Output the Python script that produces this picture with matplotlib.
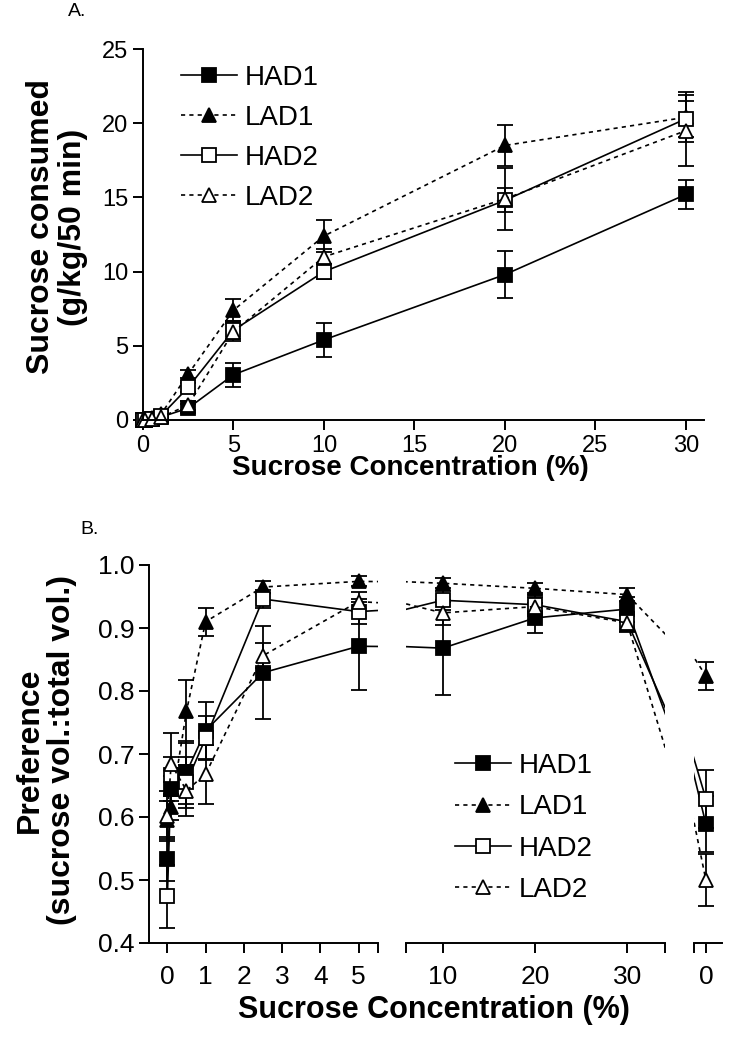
import matplotlib
matplotlib.use("Agg")
import matplotlib.pyplot as plt
from matplotlib.lines import Line2D

plt.rcParams['font.family'] = ['Liberation Sans', 'DejaVu Sans']

# panel A: sucrose consumed (g/kg/50 min)
conc_a = [0, 0.1, 0.5, 1, 2.5, 5, 10, 20, 30]
had1_a = [0, 0.02, 0.1, 0.2, 0.8, 3.05, 5.4, 9.8, 15.2]
lad1_a = [0, 0.02, 0.15, 0.4, 3.1, 7.4, 12.4, 18.5, 20.4]
had2_a = [0, 0.02, 0.1, 0.3, 2.2, 6.05, 10.0, 14.8, 20.3]
lad2_a = [0, 0.02, 0.1, 0.2, 1.0, 5.95, 11.0, 14.9, 19.5]
had1_a_err = [0, 0.02, 0.05, 0.1, 0.3, 0.8, 1.15, 1.6, 1.0]
lad1_a_err = [0, 0.02, 0.05, 0.1, 0.3, 0.75, 1.1, 1.4, 1.7]
had2_a_err = [0, 0.02, 0.05, 0.1, 0.3, 0.6, 0.5, 0.8, 1.2]
lad2_a_err = [0, 0.02, 0.05, 0.1, 0.3, 0.6, 0.5, 2.1, 2.4]

# panel B: preference; last point is the post-test water (plotted at 38.5, labelled "0")
conc_b = [0, 0.1, 0.5, 1, 2.5, 5, 10, 20, 30, 38.5]
had1_b = [0.534, 0.645, 0.671, 0.737, 0.829, 0.871, 0.868, 0.916, 0.93, 0.589]
lad1_b = [0.595, 0.616, 0.768, 0.91, 0.965, 0.974, 0.971, 0.963, 0.953, 0.824]
had2_b = [0.474, 0.666, 0.655, 0.725, 0.946, 0.926, 0.944, 0.937, 0.91, 0.629]
lad2_b = [0.602, 0.684, 0.642, 0.668, 0.856, 0.942, 0.924, 0.934, 0.908, 0.5]
had1_b_err = [0.035, 0.02, 0.05, 0.045, 0.074, 0.07, 0.074, 0.024, 0.02, 0.045]
lad1_b_err = [0.03, 0.02, 0.05, 0.022, 0.01, 0.008, 0.008, 0.008, 0.01, 0.022]
had2_b_err = [0.05, 0.03, 0.04, 0.035, 0.015, 0.02, 0.015, 0.015, 0.015, 0.046]
lad2_b_err = [0.04, 0.05, 0.04, 0.047, 0.02, 0.015, 0.02, 0.015, 0.015, 0.042]

labels = ['HAD1', 'LAD1', 'HAD2', 'LAD2']
styles = [dict(marker='s', ls='-', mfc='black'),
          dict(marker='^', ls=(0, (2.5, 2.5)), mfc='black'),
          dict(marker='s', ls='-', mfc='white'),
          dict(marker='^', ls=(0, (2.5, 2.5)), mfc='white')]


def draw_series(ax, x, ys, errs, clip=True):
    for y, e, st in zip(ys, errs, styles):
        ax.errorbar(x, y, yerr=e, color='black', lw=1.2,
                    elinewidth=1.3, capsize=6, capthick=1.3,
                    marker=st['marker'], ls=st['ls'], mfc=st['mfc'],
                    mec='black', mew=1.3, ms=10, clip_on=clip)


def legend_handles():
    return [Line2D([], [], color='black', lw=1.2, marker=st['marker'], ls=st['ls'],
                   mfc=st['mfc'], mec='black', mew=1.3, ms=10, label=lab)
            for st, lab in zip(styles, labels)]


def style_axis(ax, left=True):
    for s in ['top', 'right']:
        ax.spines[s].set_visible(False)
    ax.spines['bottom'].set_linewidth(1.4)
    ax.spines['left'].set_linewidth(1.4)
    if not left:
        ax.spines['left'].set_visible(False)
        ax.tick_params(axis='y', left=False, labelleft=False)
    ax.tick_params(direction='out', length=7, width=1.4, labelsize=17)
    ax.tick_params(which='minor', direction='out', length=7, width=1.4)


fig = plt.figure(figsize=(7.31, 10.5), dpi=100)

# ---- panel A
axA = fig.add_axes([143 / 731, 1 - 420 / 1050, (704 - 143) / 731, (420 - 49) / 1050])
draw_series(axA, conc_a, [had1_a, lad1_a, had2_a, lad2_a],
            [had1_a_err, lad1_a_err, had2_a_err, lad2_a_err], clip=False)
axA.set_xlim(0, 31)
axA.set_ylim(0, 25)
axA.set_xticks([0, 5, 10, 15, 20, 25, 30])
axA.set_yticks([0, 5, 10, 15, 20, 25])
style_axis(axA)
fig.text(57 / 731, 1 - 227 / 1050, 'Sucrose consumed\n(g/kg/50 min)', fontsize=23,
         fontweight='bold', rotation=90, ha='center', va='center', multialignment='center',
         linespacing=1.1)
fig.text(410 / 731, 1 - 468 / 1050, 'Sucrose Concentration (%)', fontsize=20,
         fontweight='bold', ha='center', va='center')
axA.legend(handles=legend_handles(), loc='upper left', bbox_to_anchor=(156 / 731, 1 - 40 / 1050),
           bbox_transform=fig.transFigure, frameon=False, fontsize=20,
           handlelength=2.0, handletextpad=0.3, labelspacing=0.5)
fig.text(68 / 731, 1 - 12 / 1050, 'A.', fontsize=14, va='center', ha='left')

# ---- panel B (broken x axis)
bot = 1 - 943 / 1050
hgt = (943 - 565) / 1050
ax1 = fig.add_axes([149 / 731, bot, (377.7 - 149) / 731, hgt])
ax2 = fig.add_axes([406.3 / 731, bot, (664.5 - 406.3) / 731, hgt], sharey=ax1)
ax3 = fig.add_axes([693.5 / 731, bot, (722 - 693.5) / 731, hgt], sharey=ax1)

ys_b = [had1_b, lad1_b, had2_b, lad2_b]
errs_b = [had1_b_err, lad1_b_err, had2_b_err, lad2_b_err]
for ax in (ax1, ax2, ax3):
    draw_series(ax, conc_b, ys_b, errs_b)

ax1.set_ylim(0.4, 1.0)
ax1.set_yticks([0.4, 0.5, 0.6, 0.7, 0.8, 0.9, 1.0])
ax1.set_yticklabels(['0.4', '0.5', '0.6', '0.7', '0.8', '0.9', '1.0'])

ax1.set_xlim(-0.48, 5.5)
ax1.set_xticks([0, 1, 2, 3, 4, 5])
ax1.set_xticks([5.5], minor=True)
ax2.set_xlim(6.05, 34.05)
ax2.set_xticks([10, 20, 30])
ax2.set_xticks([6.05, 34.05], minor=True)
ax3.set_xlim(36.5, 41.1)
ax3.set_xticks([38.5])
ax3.set_xticklabels(['0'])
ax3.set_xticks([36.5], minor=True)

style_axis(ax1)
style_axis(ax2, left=False)
style_axis(ax3, left=False)
for ax in (ax1, ax2, ax3):
    ax.tick_params(axis='x', labelsize=19, pad=9)
ax1.tick_params(axis='y', labelsize=19)

fig.text(46 / 731, 1 - 750 / 1050, 'Preference\n(sucrose vol.:total vol.)', fontsize=23,
         fontweight='bold', rotation=90, ha='center', va='center', multialignment='center',
         linespacing=1.1)
fig.text(434 / 731, 1 - 1010 / 1050, 'Sucrose Concentration (%)', fontsize=22,
         fontweight='bold', ha='center', va='center')
ax2.legend(handles=legend_handles(), loc='upper left', bbox_to_anchor=(430 / 731, 1 - 728 / 1050),
           bbox_transform=fig.transFigure, frameon=False, fontsize=20,
           handlelength=2.0, handletextpad=0.3, labelspacing=0.55)
fig.text(80 / 731, 1 - 530 / 1050, 'B.', fontsize=14, va='center', ha='left')

fig.savefig('out.png', dpi=100)
